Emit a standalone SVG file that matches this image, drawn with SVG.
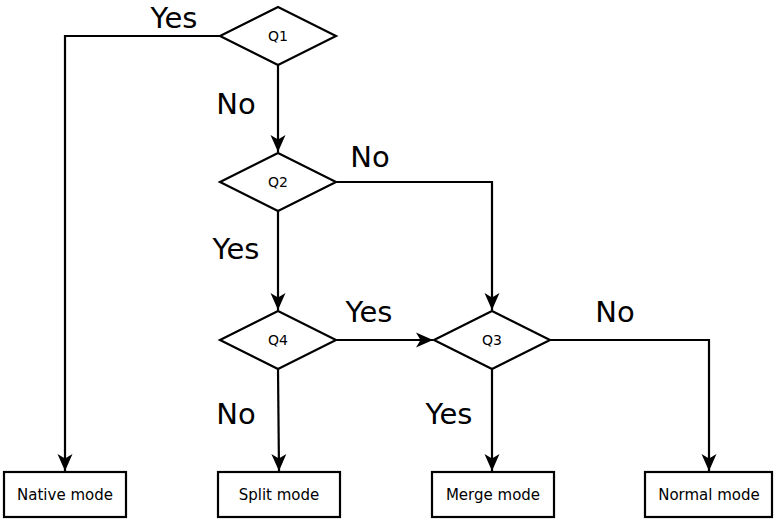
<svg xmlns="http://www.w3.org/2000/svg" width="774" height="522" viewBox="0 0 774 522">
<style>
.shape{fill:#fff;stroke:#000;stroke-width:2.2}
.line{fill:none;stroke:#000;stroke-width:2.2}
.big{font-family:"DejaVu Sans",sans-serif;font-size:29px;fill:#000;text-anchor:middle}
.small{font-family:"DejaVu Sans",sans-serif;font-size:14px;fill:#000;text-anchor:middle}
.box{font-family:"DejaVu Sans",sans-serif;font-size:15px;fill:#000;text-anchor:middle}
</style>
<defs>
<marker id="arr" viewBox="-18 -9 19 18" markerWidth="19" markerHeight="18" refX="0" refY="0" orient="auto" markerUnits="userSpaceOnUse">
<path d="M0,0 L-17,-7.5 L-12.5,0 L-17,7.5 Z" fill="#000"/>
</marker>
</defs>
<g id="connectors">
<path class="line" d="M220,36 H65 V471" marker-end="url(#arr)"/>
<path class="line" d="M278,65 V152" marker-end="url(#arr)"/>
<path class="line" d="M336,182 H492 V310" marker-end="url(#arr)"/>
<path class="line" d="M278,211 V310" marker-end="url(#arr)"/>
<path class="line" d="M336,340 H433" marker-end="url(#arr)"/>
<path class="line" d="M278,369 L279,471" marker-end="url(#arr)"/>
<path class="line" d="M492,369 V471" marker-end="url(#arr)"/>
<path class="line" d="M550,340 H709 V471" marker-end="url(#arr)"/>
</g>
<g id="labels">
<text class="big" x="174" y="28">Yes</text>
<text class="big" x="236" y="114">No</text>
<text class="big" x="370" y="167">No</text>
<text class="big" x="236" y="259">Yes</text>
<text class="big" x="369" y="322">Yes</text>
<text class="big" x="615" y="322">No</text>
<text class="big" x="236" y="424">No</text>
<text class="big" x="449" y="424">Yes</text>
</g>
<g id="Q1"><polygon class="shape" points="278,7 336,36 278,65 220,36"/><text class="small" x="278" y="41">Q1</text></g>
<g id="Q2"><polygon class="shape" points="278,153 336,182 278,211 220,182"/><text class="small" x="278" y="187">Q2</text></g>
<g id="Q4"><polygon class="shape" points="278,311 336,340 278,369 220,340"/><text class="small" x="278" y="345">Q4</text></g>
<g id="Q3"><polygon class="shape" points="492,311 550,340 492,369 434,340"/><text class="small" x="492" y="345">Q3</text></g>
<g id="native"><rect class="shape" x="4" y="472" width="122" height="45"/><text class="box" x="65" y="500">Native mode</text></g>
<g id="split"><rect class="shape" x="218" y="472" width="122" height="45"/><text class="box" x="279" y="500">Split mode</text></g>
<g id="merge"><rect class="shape" x="432" y="472" width="122" height="45"/><text class="box" x="493" y="500">Merge mode</text></g>
<g id="normal"><rect class="shape" x="645" y="472" width="127" height="45"/><text class="box" x="709" y="500">Normal mode</text></g>
</svg>
